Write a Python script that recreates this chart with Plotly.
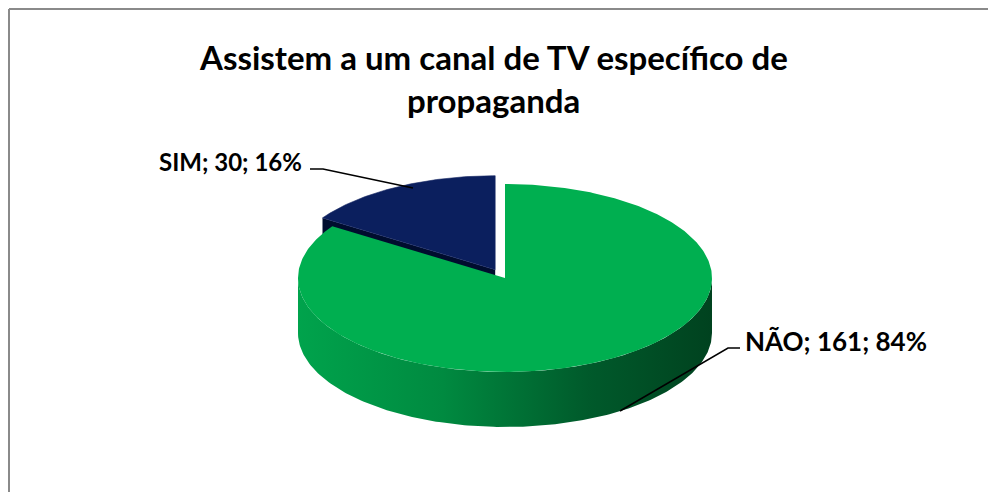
import numpy as np
import plotly.graph_objects as go

# ---- data ----
categories = ["SIM", "NÃO"]
values = [30, 161]
title_lines = ["Assistem a um canal de TV específico de", "propaganda"]

# ---- layout constants (pixel space) ----
W, H = 988, 492
CX, CY = 505.0, 278.0
RX, RY = 207.0, 94.0
DEPTH = 55.0
EXPLODE = 0.10
FONT = "Lato, Calibri, sans-serif"

total = sum(values)
fracs = [v / total for v in values]
pcts = [round(f * 100) for f in fracs]

# SIM spans from 90 deg counter-clockwise; NÃO spans the rest clockwise from 90
sim_frac = fracs[0]
a0 = 90.0
a1 = 90.0 + 360.0 * sim_frac


def pt(t_deg, ox=CX, oy=CY, dz=0.0):
    t = np.radians(t_deg)
    return ox + RX * np.cos(t), oy - RY * np.sin(t) + dz


fig = go.Figure()

# --- SIM slice (exploded) ---
mid = np.radians((a0 + a1) / 2)
ox = CX + EXPLODE * RX * np.cos(mid)
oy = CY - EXPLODE * RY * np.sin(mid)

# radial face of SIM at angle a1 (dark)
px, py = pt(a1, ox, oy)
fig.add_trace(go.Scatter(
    x=[ox, px, px, ox, ox], y=[oy, py, py + DEPTH, oy + DEPTH, oy],
    fill="toself", mode="lines", line=dict(width=0),
    fillcolor="#000D2E", hoverinfo="skip", showlegend=False))

ts = np.linspace(a0, a1, 80)
xs, ys = pt(ts, ox, oy)
fig.add_trace(go.Scatter(
    x=np.concatenate([[ox], xs, [ox]]), y=np.concatenate([[oy], ys, [oy]]),
    fill="toself", mode="lines", line=dict(width=0.6, color="#1a2a66"),
    fillcolor="#0B1F5E", hoverinfo="skip", showlegend=False, name=categories[0]))

# --- NÃO slice side (front half) ---
ts = np.linspace(180, 360, 200)
xt, yt = pt(ts)
xb, yb = pt(ts[::-1], dz=DEPTH)
fig.add_trace(go.Scatter(
    x=np.concatenate([xt, xb, [xt[0]]]), y=np.concatenate([yt, yb, [yt[0]]]),
    fill="toself", mode="lines", line=dict(width=0),
    fillgradient=dict(type="horizontal",
                      colorscale=[[0, "#00A34C"], [0.35, "#008A40"],
                                  [0.7, "#005A2B"], [1, "#00421F"]]),
    hoverinfo="skip", showlegend=False))

# --- NÃO top face ---
ts = np.linspace(a0, a1 - 360.0, 400)
xs, ys = pt(ts)
fig.add_trace(go.Scatter(
    x=np.concatenate([[CX], xs, [CX]]), y=np.concatenate([[CY], ys, [CY]]),
    fill="toself", mode="lines", line=dict(width=0),
    fillcolor="#00AF50", hoverinfo="skip", showlegend=False, name=categories[1]))

# --- leader lines ---
leader = dict(color="black", width=1.6)
fig.add_trace(go.Scatter(x=[310, 323, 413], y=[169, 169, 188], mode="lines",
                         line=leader, hoverinfo="skip", showlegend=False))
fig.add_trace(go.Scatter(x=[740, 728, 620], y=[348, 348, 411], mode="lines",
                         line=leader, hoverinfo="skip", showlegend=False))

labels = [f"{c}; {v}; {p}%" for c, v, p in zip(categories, values, pcts)]
annotations = [
    dict(x=304, y=161, text=f"<b>{labels[0]}</b>", xanchor="right", yanchor="middle",
         showarrow=False, font=dict(family=FONT, size=24, color="black")),
    dict(x=743, y=341, text=f"<b>{labels[1]}</b>", xanchor="left", yanchor="middle",
         showarrow=False, font=dict(family=FONT, size=26, color="black")),
    dict(x=493, y=57, text=f"<b>{title_lines[0]}</b>", xanchor="center", yanchor="middle",
         showarrow=False, font=dict(family=FONT, size=33, color="black")),
    dict(x=493, y=100, text=f"<b>{title_lines[1]}</b>", xanchor="center", yanchor="middle",
         showarrow=False, font=dict(family=FONT, size=33, color="black")),
]

shapes = [
    dict(type="line", xref="x", yref="y", x0=9, y0=9, x1=W + 5, y1=9,
         line=dict(color="#8A8A8A", width=2)),
    dict(type="line", xref="x", yref="y", x0=9, y0=9, x1=9, y1=H + 5,
         line=dict(color="#8A8A8A", width=2)),
]

fig.update_layout(
    width=W, height=H, margin=dict(l=0, r=0, t=0, b=0),
    paper_bgcolor="white", plot_bgcolor="white",
    xaxis=dict(range=[0, W], visible=False, fixedrange=True),
    yaxis=dict(range=[H, 0], visible=False, fixedrange=True),
    annotations=annotations, shapes=shapes, showlegend=False,
)

fig.write_html("out.html")
